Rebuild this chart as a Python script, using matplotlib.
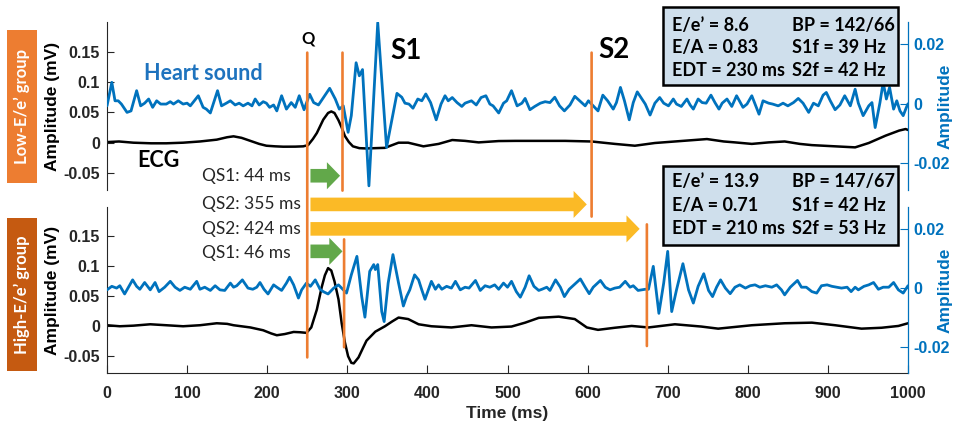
import numpy as np
import matplotlib
matplotlib.use("Agg")
import matplotlib.pyplot as plt
from matplotlib.patches import Rectangle, FancyArrowPatch, ConnectionPatch

# ---------------- data ----------------
# Low-E/e' group: heart sound (right axis) and ECG (left axis, mV)
low_hs_t = [0, 6, 10, 14, 18, 25, 30, 37, 42, 47, 52, 57, 62, 67, 74, 79, 83, 89, 95, 100,
            104, 114, 120, 124, 129, 138, 143, 149, 154, 160, 165, 170, 176, 181, 185, 190,
            195, 199, 203, 208, 212, 218, 224, 230, 235, 240, 246, 253, 258, 264, 269, 278,
            285, 290, 295, 301, 305, 311, 315, 319, 327, 338, 349, 362, 368, 372, 377, 382,
            388, 393, 398, 404, 411, 417, 422, 426, 431, 437, 443, 447, 455, 461, 467, 473,
            478, 482, 489, 495, 499, 505, 512, 518, 522, 528, 534, 541, 547, 553, 559, 565,
            571, 578, 584, 590, 597, 601, 607, 613, 619, 625, 632, 636, 641, 646, 652, 657,
            662, 672, 678, 684, 690, 695, 701, 707, 711, 717, 724, 728, 732, 738, 743, 748,
            754, 759, 764, 768, 774, 780, 786, 794, 799, 805, 810, 814, 819, 826, 831, 838,
            844, 850, 857, 863, 869, 876, 882, 888, 894, 898, 903, 909, 915, 921, 928, 934,
            938, 944, 951, 955, 959, 965, 969, 973, 977, 982, 986, 990, 994, 998, 1000]
low_hs = [-0.0007, 0.0072, 0.0010, 0.0010, -0.0001, -0.0029, -0.0024, 0.0044, -0.0007, 0.0002,
          0.0016, -0.0012, 0.0010, -0.0001, -0.0001, 0.0007, -0.0001, 0.0010, -0.0001, 0.0002,
          -0.0007, 0.0027, -0.0012, -0.0018, -0.0031, 0.0044, -0.0007, 0.0002, 0.0010, -0.0004,
          0.0002, -0.0007, 0.0002, -0.0007, 0.0016, -0.0004, 0.0007, 0.0002, -0.0012, -0.0004,
          -0.0024, 0.0027, -0.0018, 0.0004, -0.0012, 0.0027, -0.0020, 0.0032, 0.0004, -0.0004,
          0.0016, 0.0052, 0.0016, -0.0018, -0.0007, -0.0096, -0.0040, 0.0138, 0.0094, 0.0115,
          -0.0276, 0.0273, -0.0147, 0.0035, 0.0022, 0.0002, -0.0001, -0.0015, 0.0016, 0.0010,
          0.0033, 0.0004, -0.0054, -0.0001, 0.0027, 0.0010, 0.0021, 0.0004, -0.0009, 0.0002,
          0.0010, -0.0004, 0.0021, 0.0027, -0.0001, -0.0007, -0.0031, 0.0002, 0.0010, 0.0044,
          -0.0007, 0.0002, 0.0018, -0.0020, -0.0009, 0.0002, 0.0007, 0.0004, 0.0022, -0.0007,
          -0.0024, -0.0004, 0.0025, 0.0010, -0.0007, 0.0010, -0.0007, -0.0024, 0.0029, 0.0010,
          -0.0018, 0.0004, 0.0055, 0.0010, -0.0054, 0.0004, 0.0040, -0.0001, -0.0038, 0.0002,
          0.0021, 0.0002, -0.0007, 0.0016, -0.0001, -0.0009, 0.0016, -0.0004, -0.0018, 0.0016,
          0.0004, 0.0002, 0.0029, 0.0004, -0.0018, 0.0002, 0.0016, -0.0009, 0.0027, -0.0012,
          -0.0001, 0.0027, -0.0007, -0.0035, 0.0010, 0.0002, -0.0001, -0.0007, 0.0002, -0.0007,
          0.0004, 0.0018, 0.0002, -0.0029, 0.0002, -0.0007, 0.0029, 0.0038, 0.0010, -0.0020,
          -0.0004, 0.0027, -0.0007, 0.0049, 0.0002, -0.0040, -0.0007, 0.0004, -0.0080, 0.0004,
          0.0072, 0.0016, 0.0055, -0.0018, 0.0010, -0.0024, -0.0040, -0.0012, 0.0000]

low_ecg_t = [0, 15, 33, 55, 74, 95, 116, 137, 150, 158, 168, 179, 190, 199, 210, 220, 235,
             245, 251, 257, 262, 270, 276, 280, 284, 289, 293, 297, 302, 307, 315, 324, 335,
             347, 364, 376, 395, 414, 431, 447, 464, 489, 510, 531, 572, 605, 634, 659, 684,
             722, 749, 770, 784, 805, 826, 846, 865, 880, 909, 934, 951, 972, 989, 997, 1000]
low_ecg = [0.001, 0.002, 0.000, -0.001, -0.001, 0.000, 0.002, 0.005, 0.009, 0.0105, 0.008,
           0.003, -0.002, -0.005, -0.006, -0.0066, -0.0065, -0.006, -0.004, 0.006, 0.016,
           0.038, 0.049, 0.0515, 0.049, 0.037, 0.025, 0.011, 0.001, -0.006, -0.009, -0.0095,
           -0.009, -0.0085, 0.000, 0.000, -0.006, -0.002, 0.0044, 0.003, 0.0005, 0.0027,
           0.003, 0.003, 0.003, 0.002, -0.002, -0.005, -0.0005, 0.0033, 0.006, 0.002, 0.0005,
           -0.002, 0.0005, 0.002, -0.002, -0.004, -0.006, -0.0077, -0.0005, 0.0116, 0.020,
           0.0225, 0.021]

# High-E/e' group
high_hs_t = [0, 6, 12, 16, 22, 32, 37, 41, 47, 54, 60, 65, 72, 79, 85, 91, 97, 104, 112, 116,
             122, 129, 135, 141, 147, 154, 158, 162, 169, 176, 182, 187, 191, 196, 201, 208,
             212, 218, 224, 228, 233, 239, 243, 249, 254, 260, 266, 270, 276, 283, 289, 295,
             299, 305, 312, 318, 322, 328, 333, 335, 338, 343, 346, 351, 357, 364, 370, 374,
             378, 384, 389, 393, 397, 401, 405, 410, 414, 418, 424, 430, 435, 441, 447, 452,
             460, 466, 472, 478, 484, 489, 495, 500, 505, 511, 516, 522, 527, 533, 539, 543,
             549, 553, 560, 566, 571, 577, 581, 591, 597, 602, 607, 616, 622, 628, 634, 640,
             647, 653, 657, 663, 672, 676, 682, 689, 695, 700, 705, 711, 719, 726, 732, 738,
             745, 751, 756, 761, 766, 772, 778, 784, 790, 797, 803, 809, 815, 822, 830, 836,
             842, 846, 853, 862, 867, 873, 880, 886, 892, 899, 905, 911, 917, 924, 929, 934,
             938, 945, 951, 957, 963, 969, 976, 982, 988, 994, 1000]
high_hs = [-0.0007, 0.0005, -0.0001, 0.0007, -0.0021, 0.0027, 0.0005, -0.0005, 0.0018, -0.0007,
           0.0018, -0.0013, 0.0002, 0.0022, 0.0002, -0.0009, 0.0002, -0.0005, 0.0022, -0.0005,
           0.0002, -0.0009, 0.0007, -0.0007, -0.0009, 0.0016, 0.0002, 0.0007, 0.0027, -0.0001,
           -0.0005, 0.0002, 0.0018, -0.0005, -0.0021, 0.0010, 0.0002, -0.0009, 0.0016, 0.0036,
           0.0010, -0.0035, -0.0007, 0.0016, 0.0005, 0.0027, -0.0005, -0.0013, -0.0021, -0.0001,
           0.0010, -0.0007, -0.0018, 0.0044, 0.0107, -0.0030, -0.0100, 0.0056, 0.0079, 0.0062,
           0.0079, -0.0081, -0.0115, 0.0016, 0.0113, 0.0016, -0.0062, -0.0030, -0.0007, 0.0044,
           0.0027, -0.0007, -0.0039, -0.0009, 0.0022, -0.0005, 0.0010, -0.0005, 0.0005, -0.0001,
           0.0022, -0.0007, 0.0002, -0.0001, 0.0025, -0.0009, 0.0007, 0.0002, 0.0010, -0.0005,
           0.0016, 0.0002, 0.0022, -0.0013, -0.0032, 0.0002, 0.0041, 0.0005, -0.0009, -0.0005,
           0.0002, -0.0009, 0.0027, 0.0002, -0.0030, -0.0005, 0.0005, 0.0030, 0.0002, -0.0020,
           0.0002, 0.0025, 0.0002, -0.0007, -0.0001, 0.0002, 0.0022, 0.0002, 0.0007, -0.0009,
           -0.0005, -0.0005, 0.0073, -0.0087, 0.0016, 0.0124, -0.0081, -0.0007, 0.0082, -0.0007,
           -0.0052, 0.0005, 0.0048, -0.0009, -0.0030, 0.0002, 0.0027, -0.0001, -0.0020, 0.0002,
           0.0010, -0.0001, 0.0007, 0.0010, 0.0002, 0.0007, 0.0002, 0.0010, -0.0007, -0.0024,
           0.0002, 0.0025, 0.0002, 0.0002, -0.0013, -0.0018, 0.0007, 0.0010, 0.0005, 0.0002,
           -0.0001, 0.0002, -0.0013, 0.0002, -0.0007, 0.0005, 0.0010, 0.0018, -0.0005, 0.0002,
           0.0002, 0.0018, -0.0007, -0.0018, 0.0007]

high_ecg_t = [0, 16, 33, 54, 74, 95, 116, 137, 150, 158, 179, 195, 205, 212, 222, 233, 241,
              249, 255, 262, 268, 272, 276, 280, 284, 289, 293, 297, 301, 305, 308, 314, 320,
              324, 335, 347, 356, 364, 376, 389, 405, 430, 455, 480, 505, 522, 539, 564, 584,
              599, 613, 634, 655, 676, 709, 742, 763, 805, 846, 880, 909, 942, 967, 988, 1000]
high_ecg = [0.0017, 0.000, 0.001, 0.0033, 0.0017, 0.000, 0.0017, 0.005, 0.004, 0.0017, -0.002,
            -0.0067, -0.012, -0.015, -0.013, -0.0095, -0.010, -0.011, -0.002, 0.028, 0.065,
            0.085, 0.097, 0.093, 0.075, 0.045, 0.005, -0.027, -0.050, -0.061, -0.062, -0.052,
            -0.035, -0.024, -0.009, 0.000, 0.008, 0.0145, 0.012, 0.0033, 0.000, -0.002, 0.0017,
            -0.002, -0.0005, 0.006, 0.014, 0.016, 0.012, -0.002, -0.006, -0.0025, 0.0005,
            -0.002, 0.0033, -0.0005, -0.004, 0.0017, 0.005, 0.006, 0.0017, -0.004, -0.0025,
            0.0005, 0.005]

# Q onset and Q-S intervals (ms)
q_onset = 250
low_qs1, low_qs2 = 44, 355
high_qs1, high_qs2 = 46, 424

low_info = [("E/e\u2019 = 8.6", "BP = 142/66"),
            ("E/A = 0.83", "S1f = 39 Hz"),
            ("EDT = 230 ms", "S2f = 42 Hz")]
high_info = [("E/e\u2019 = 13.9", "BP = 147/67"),
             ("E/A = 0.71", "S1f = 42 Hz"),
             ("EDT = 210 ms", "S2f = 53 Hz")]

x_ticks = list(range(0, 1001, 100))
left_ticks = [-0.05, 0, 0.05, 0.1, 0.15]
left_ticklabels = ["-0.05", "0", "0.05", "0.1", "0.15"]
right_ticks = [-0.02, 0, 0.02]
right_ticklabels = ["-0.02", "0", "0.02"]

# ---------------- style ----------------
W, H = 956, 426
BLUE = "#0072BD"
DARK = "#262626"
ORANGE = "#ED7D31"
DARK_ORANGE = "#C55A11"
GREEN = "#62A84A"
GOLD = "#FBBA26"
BOXFILL = "#CFDFEC"
TXT_BLUE = "#1E73BE"
TICKFONT = "Liberation Sans"
ANNFONT = "Lato"


def fx(px):
    return px / W


def fy(py):
    return 1 - py / H


fig = plt.figure(figsize=(W / 100, H / 100), dpi=100, facecolor="white")

ax_top = fig.add_axes([fx(107), fy(190), fx(908) - fx(107), fy(22) - fy(190)])
ax_bot = fig.add_axes([fx(107), fy(373), fx(908) - fx(107), fy(207) - fy(373)])
axr_top = ax_top.twinx()
axr_bot = ax_bot.twinx()

ECG_LIM = (-0.078, 0.199)
HS_LIM = (-0.029, 0.0275)

for ax, axr, hs_t, hs, ecg_t, ecg in [(ax_top, axr_top, low_hs_t, low_hs, low_ecg_t, low_ecg),
                                      (ax_bot, axr_bot, high_hs_t, high_hs, high_ecg_t, high_ecg)]:
    ax.patch.set_visible(False)
    ax.plot(ecg_t, ecg, color="black", lw=1.8, solid_joinstyle="round",
            solid_capstyle="round", zorder=2)
    axr.plot(hs_t, hs, color=BLUE, lw=2.0, solid_joinstyle="round",
             solid_capstyle="round", zorder=2)
    ax.set_xlim(0, 1000)
    ax.set_ylim(*ECG_LIM)
    axr.set_ylim(*HS_LIM)
    ax.set_yticks(left_ticks)
    ax.set_yticklabels(left_ticklabels)
    axr.set_yticks(right_ticks)
    axr.set_yticklabels(right_ticklabels)
    ax.tick_params(axis="y", direction="in", length=5, width=0.8, colors=DARK, pad=5,
                   labelsize=11.5)
    axr.tick_params(axis="y", direction="in", length=5.5, width=0.8, colors=BLUE, pad=4,
                    labelsize=11.5)
    for lab in ax.get_yticklabels() + axr.get_yticklabels():
        lab.set_fontfamily(TICKFONT)
        lab.set_fontweight("bold")
    for a in (ax, axr):
        for side in ("top", "left", "right", "bottom"):
            a.spines[side].set_visible(False)
    ax.spines["left"].set_visible(True)
    ax.spines["left"].set_color(DARK)
    ax.spines["left"].set_linewidth(0.8)
    axr.spines["right"].set_visible(True)
    axr.spines["right"].set_color(BLUE)
    axr.spines["right"].set_linewidth(0.9)
    ax.set_ylabel("Amplitude (mV)", fontfamily=TICKFONT, fontweight="bold", fontsize=12.5,
                  color="black", va="center")
    ax.yaxis.set_label_coords((52 - 107) / 801, 0.5)
    axr.set_ylabel("Amplitude", fontfamily=TICKFONT, fontweight="bold", fontsize=12.5,
                   color=BLUE, va="center", rotation=90)
    axr.yaxis.set_label_coords((945 - 107) / 801, 0.5)

ax_top.set_xticks([])
axr_top.set_xticks([])

ax_bot.spines["bottom"].set_visible(True)
ax_bot.spines["bottom"].set_color(DARK)
ax_bot.spines["bottom"].set_linewidth(0.8)
ax_bot.set_xticks(x_ticks)
ax_bot.tick_params(axis="x", direction="in", length=5.5, width=0.8, colors=DARK, pad=9,
                   labelsize=11.5)
for lab in ax_bot.get_xticklabels():
    lab.set_fontfamily(TICKFONT)
    lab.set_fontweight("bold")
ax_bot.set_xlabel("Time (ms)", fontfamily=TICKFONT, fontweight="bold", fontsize=12.5,
                  color=DARK, labelpad=4)

# ---------------- onset markers ----------------
def vline(ax_a, ya, ax_b, yb, t):
    con = ConnectionPatch(xyA=(t, ya), coordsA=ax_a.transData,
                          xyB=(t, yb), coordsB=ax_b.transData,
                          color=ORANGE, lw=1.9, arrowstyle="-", zorder=5)
    fig.add_artist(con)


vline(ax_top, 0.1485, ax_bot, -0.052, q_onset)
vline(ax_top, 0.1485, ax_top, -0.079, q_onset + low_qs1)
vline(ax_top, 0.1485, ax_bot, 0.183, q_onset + low_qs2)
vline(ax_bot, 0.145, ax_bot, -0.035, q_onset + high_qs1)
vline(ax_bot, 0.170, ax_bot, -0.033, q_onset + high_qs2)

# ---------------- interval arrows ----------------
def interval_arrow(ax, y, qs, color, gap):
    arr = FancyArrowPatch((q_onset + 4, y), (q_onset + qs - gap, y),
                          arrowstyle="simple,head_length=9.5,head_width=19.5,tail_width=9.8",
                          mutation_scale=1, shrinkA=0, shrinkB=0, color=color, lw=0,
                          clip_on=False, zorder=4)
    ax.add_patch(arr)


interval_arrow(ax_top, -0.0545, low_qs1, GREEN, 3)
interval_arrow(ax_bot, 0.2033, low_qs2, GOLD, 6)
interval_arrow(ax_bot, 0.1625, high_qs2, GOLD, 9)
interval_arrow(ax_bot, 0.125, high_qs1, GREEN, 2)

qs_labels = [(176, f"QS1: {low_qs1} ms"), (204, f"QS2: {low_qs2} ms"),
             (229, f"QS2: {high_qs2} ms"), (253, f"QS1: {high_qs1} ms")]
for py, s in qs_labels:
    fig.text(fx(202), fy(py), s, fontfamily=ANNFONT, fontsize=12.5, color=DARK,
             ha="left", va="center")

# ---------------- labels ----------------
fig.text(fx(308), fy(39), "Q", fontfamily=ANNFONT, fontweight="bold", fontsize=12,
         ha="center", va="center")
fig.text(fx(406), fy(51), "S1", fontfamily=ANNFONT, fontweight="bold", fontsize=20,
         ha="center", va="center")
fig.text(fx(614), fy(50), "S2", fontfamily=ANNFONT, fontweight="bold", fontsize=20,
         ha="center", va="center")
fig.text(fx(203), fy(73.5), "Heart sound", fontfamily=ANNFONT, fontweight="bold",
         fontsize=15.5, color=TXT_BLUE, ha="center", va="center")
fig.text(fx(158), fy(160.5), "ECG", fontfamily=ANNFONT, fontweight="bold", fontsize=15.5,
         color="black", ha="center", va="center")

# group tags on the left
for (top, bot), col, s in [((30, 183), ORANGE, "Low-E/e\u2019 group"),
                           ((218, 371), DARK_ORANGE, "High-E/e\u2019 group")]:
    fig.add_artist(Rectangle((fx(7), fy(bot)), fx(37) - fx(7), fy(top) - fy(bot),
                             transform=fig.transFigure, facecolor=col, edgecolor="none",
                             zorder=1))
    fig.text(fx(22), fy((top + bot) / 2), s, rotation=90, fontfamily=ANNFONT,
             fontweight="bold", fontsize=12, color="white", ha="center", va="center",
             zorder=3)

# echo parameter boxes
for (top, bot), rows, row_y in [((7, 85), low_info, (25, 47.5, 70)),
                                ((166, 245), high_info, (182, 205.5, 229))]:
    fig.add_artist(Rectangle((fx(663), fy(bot)), fx(898) - fx(663), fy(top) - fy(bot),
                             transform=fig.transFigure, facecolor=BOXFILL,
                             edgecolor="black", lw=1.8, zorder=6))
    for (a, b), py in zip(rows, row_y):
        fig.text(fx(672), fy(py), a, fontfamily=ANNFONT, fontweight="bold", fontsize=13,
                 ha="left", va="center", zorder=7)
        fig.text(fx(792), fy(py), b, fontfamily=ANNFONT, fontweight="bold", fontsize=13,
                 ha="left", va="center", zorder=7)

fig.savefig("out.png", dpi=100, facecolor="white")
